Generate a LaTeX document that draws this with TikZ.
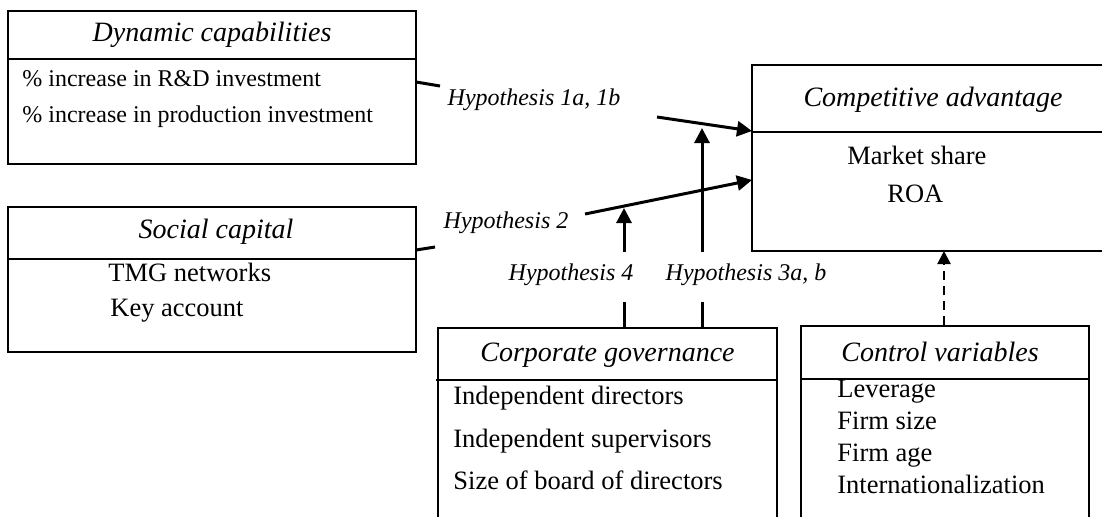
\documentclass[tikz,border=0pt]{standalone}
\usepackage{fontspec}
\setmainfont{Liberation Serif}
\usetikzlibrary{arrows.meta}
\usetikzlibrary{positioning}

\begin{document}
\begin{tikzpicture}[x=0.5pt,y=-0.5pt,on grid,
    frame/.style={draw,line width=1pt,inner sep=0pt},
    rule/.style={line width=1pt},
    head/.style={font=\fontsize{14}{16}\selectfont\itshape,inner sep=0pt},
    item/.style={font=\fontsize{13.25}{15}\selectfont,anchor=west,inner sep=0pt,text height=0.68em,text depth=0.2em},
    small/.style={item,font=\fontsize{12}{14}\selectfont},
    hyp/.style={font=\fontsize{12}{14}\selectfont\itshape,inner sep=0pt},
    link/.style={line width=1.5pt},
    tip/.style={-{Triangle[length=7.5pt,width=7.5pt]}}]

        \useasboundingbox (0,0) rectangle (1102,516);
        \clip (0,0) rectangle (1102,516);

        \node[frame, minimum width=204pt, minimum height=76.65pt] (b_dc) at (212,87.35) {};
        \node[frame, minimum width=204pt, minimum height=72.5pt] (b_sc) at (212,279.5) {};
        \node[frame, minimum width=189pt, minimum height=93pt] (b_ca) at (941,158) {};
        \node[frame, minimum width=169.5pt, minimum height=116pt] (b_cg) at (607.5,444) {};
        \node[frame, minimum width=144pt, minimum height=117pt] (b_cv) at (945,443) {};

        \draw[rule] (b_dc.west |- 0,58.7) -- (b_dc.east |- 0,58.7);
        \draw[rule] (b_sc.west |- 0,259) -- (b_sc.east |- 0,259);
        \draw[rule] (b_ca.west |- 0,132) -- (b_ca.east |- 0,132);
        \draw[rule] (436,380) -- (b_cg.east |- 0,380);
        \draw[rule] (b_cv.west |- 0,379) -- (b_cv.east |- 0,379);

        \node[head] (t_dc) at (212,35) {Dynamic capabilities};
        \node[head] (t_sc) at (216,232) {Social capital};
        \node[head] (t_ca) at (933,100) {Competitive advantage};
        \node[head] (t_cg) at (607.5,355) {Corporate governance};
        \node[head] (t_cv) at (940,352) {Control variables};

        \node[small] (i_dc1) at (22,82) {\% increase in R\&D investment};
        \node[small] (i_dc2) [below=18pt of i_dc1.west, anchor=west] {\% increase in production investment};

        \node[item] (i_sc1) at (108,277) {TMG networks};
        \node[item] (i_sc2) at (110,312) {Key account};

        \node[item] (i_ca1) at (847,160) {Market share};
        \node[item] (i_ca2) at (887,198) {ROA};

        \node[item] (i_cg1) at (453,400) {Independent directors};
        \node[item] (i_cg2) [below=21.25pt of i_cg1.west, anchor=west] {Independent supervisors};
        \node[item] (i_cg3) [below=21.25pt of i_cg2.west, anchor=west] {Size of board of directors};

        \node[item] (i_cv1) at (837,393) {Leverage};
        \node[item] (i_cv2) [below=16pt of i_cv1.west, anchor=west] {Firm size};
        \node[item] (i_cv3) [below=16pt of i_cv2.west, anchor=west] {Firm age};
        \node[item] (i_cv4) [below=16pt of i_cv3.west, anchor=west] {Internationalization};

        \node[hyp] (h_1) at (534,100) {Hypothesis 1a, 1b};
        \node[hyp] (h_2) at (506,223) {Hypothesis 2};
        \node[hyp] (h_4) at (571,275) {Hypothesis 4};
        \node[hyp] (h_3) at (746,275) {Hypothesis 3a, b};

        \coordinate (s_1) at (416,82);
        \coordinate (t_1) at (440,86);
        \coordinate (a_1) at (657,117);
        \coordinate (e_1) at (752,131);
        \coordinate (s_2) at (416,250);
        \coordinate (t_2) at (435,247);
        \coordinate (a_2) at (585,214);
        \coordinate (e_2) at (752,180);
        \coordinate (t_3) at (702,302);
        \coordinate (a_3) at (702,252);
        \coordinate (e_3) at (702,128);
        \coordinate (t_4) at (624,302);
        \coordinate (a_4) at (624,252);
        \coordinate (e_4) at (624,208);
        \coordinate (e_5) at (944,251);

        \path[link]
        (s_1) edge (t_1)
        (s_2) edge (t_2)
        (b_cg.north -| t_4) edge (t_4)
        (b_cg.north -| t_3) edge (t_3);

        \path[link, tip]
        (a_1) edge (e_1)
        (a_2) edge (e_2)
        (a_3) edge (e_3)
        (a_4) edge (e_4);

        \path[line width=1.1pt, -{Triangle[length=6.5pt,width=6.5pt]}, dash pattern=on 4.5pt off 3pt]
        (b_cv.north -| e_5) edge (e_5);
      \end{tikzpicture}
\end{document}
